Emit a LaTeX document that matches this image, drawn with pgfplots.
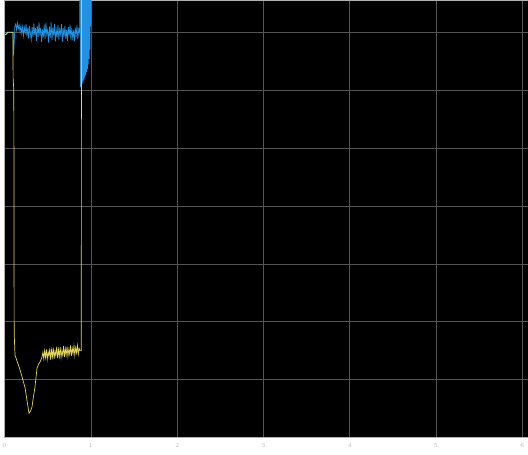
\documentclass[border=0pt]{standalone}
\usepackage{pgfplots}
\pgfplotsset{compat=1.18}
\definecolor{scopeblue}{RGB}{35,145,225}
\definecolor{scopeyellow}{RGB}{225,212,95}
\definecolor{gridgray}{RGB}{85,85,85}
\begin{document}
\begin{tikzpicture}
\useasboundingbox (-4.5pt,-17.5pt) rectangle (523.5pt,437.5pt);
\begin{axis}[
  at={(0,0)}, anchor=south west,
  scale only axis,
  width=523.5pt, height=437.5pt,
  xmin=0, xmax=6.066, ymin=0, ymax=7.556,
  xtick={0,1,2,3,4,5,6},
  ytick={0,1,2,3,4,5,6,7},
  yticklabels={},
  axis background/.style={fill=black},
  grid=major,
  major grid style={draw=gridgray, line width=0.5pt},
  axis line style={draw=gray!60, line width=0.5pt},
  major tick length=0pt,
  xticklabel style={font=\fontsize{6.5}{7}\selectfont, text=gray!60, yshift=-2.5pt},
  clip=true,
]
\addplot[scopeblue, line width=0.7pt] coordinates {
(0,6.95) (0.025,6.97) (0.035,7.0) (0.098,7.0) (0.105,6.6) (0.115,6.9)
(0.120,7.10) (0.130,7.14) (0.140,7.04) (0.150,7.16) (0.160,7.06) (0.170,7.12)
(0.180,7.00) (0.190,7.11) (0.200,6.98) (0.210,7.09) (0.220,6.94) (0.230,7.08)
(0.240,6.99) (0.250,7.14) (0.260,6.93) (0.270,7.08) (0.280,6.89) (0.290,7.11)
(0.300,6.98) (0.310,6.87) (0.320,7.09) (0.330,6.91) (0.340,7.15) (0.350,6.95)
(0.360,7.07) (0.370,6.85) (0.380,7.11) (0.390,6.92) (0.400,7.17) (0.410,6.94)
(0.420,7.08) (0.430,6.83) (0.440,7.05) (0.450,6.91) (0.460,7.13) (0.470,6.88)
(0.480,7.16) (0.490,6.96) (0.500,7.04) (0.510,6.82) (0.520,7.10) (0.530,6.90)
(0.540,7.17) (0.550,6.86) (0.560,7.08) (0.570,6.94) (0.580,7.14) (0.590,6.84)
(0.600,7.03) (0.610,6.91) (0.620,7.12) (0.630,6.87) (0.640,7.05) (0.650,6.96)
(0.660,7.14) (0.670,6.83) (0.680,7.07) (0.690,6.92) (0.700,7.11) (0.710,6.89)
(0.720,7.04) (0.730,6.85) (0.740,7.09) (0.750,6.94) (0.760,7.13) (0.770,6.86)
(0.780,7.07) (0.790,6.90) (0.800,7.03) (0.810,6.84) (0.820,7.08) (0.830,6.92)
(0.840,7.12) (0.850,6.88) (0.860,7.05) (0.870,7.00)
(0.876,9) (0.881,6.05) (0.886,9) (0.891,6.08) (0.896,9) (0.901,6.11)
(0.906,9) (0.911,6.15) (0.916,9) (0.921,6.18) (0.926,9) (0.931,6.22)
(0.936,9) (0.941,6.26) (0.946,9) (0.951,6.31) (0.956,9) (0.961,6.36)
(0.966,9) (0.971,6.44) (0.976,9) (0.981,6.54) (0.986,9) (0.991,6.70)
(0.996,9) (1.001,7.1) (1.006,9)
};
\addplot[scopeyellow, line width=0.7pt] coordinates {
(0,6.95) (0.025,6.97) (0.035,7.0) (0.098,7.0) (0.100,6.2) (0.108,6.0)
(0.112,1.8) (0.122,1.42) (0.18,1.17) (0.238,0.86) (0.265,0.6) (0.284,0.42)
(0.30,0.45) (0.319,0.53) (0.335,0.7) (0.353,0.87) (0.377,1.2) (0.40,1.28)
(0.411,1.3) (0.435,1.39)
(0.445,1.47) (0.455,1.36) (0.465,1.50) (0.475,1.38) (0.485,1.52) (0.495,1.35)
(0.505,1.48) (0.515,1.40) (0.525,1.54) (0.535,1.34) (0.545,1.51) (0.555,1.39)
(0.565,1.55) (0.575,1.36) (0.585,1.49) (0.595,1.41) (0.605,1.57) (0.615,1.37)
(0.625,1.52) (0.635,1.40) (0.645,1.56) (0.655,1.38) (0.665,1.50) (0.675,1.42)
(0.685,1.58) (0.695,1.39) (0.705,1.53) (0.715,1.43) (0.725,1.57) (0.735,1.40)
(0.745,1.52) (0.755,1.44) (0.765,1.59) (0.775,1.41) (0.785,1.54) (0.795,1.45)
(0.805,1.58) (0.815,1.42) (0.825,1.55) (0.835,1.46) (0.845,1.59) (0.855,1.44)
(0.865,1.54) (0.875,1.50) (0.89,1.50) (0.892,9)
};
\end{axis}
\end{tikzpicture}
\end{document}
